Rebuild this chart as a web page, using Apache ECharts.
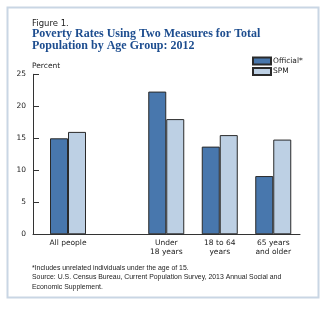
<!DOCTYPE html>
<html><head><meta charset="utf-8">
<script src="https://cdn.jsdelivr.net/npm/echarts@6/dist/echarts.min.js"></script>
<style>html,body{margin:0;padding:0;background:#fff}#c{width:330px;height:329px}</style>
</head><body><div id="c"></div>
<script>
var groupLeft = ["All people", ""];
var groupRight = ["Under\n18 years", "18 to 64\nyears", "65 years\nand older"];
var officialLeft = [15.0, null];
var spmLeft = [16.0, null];
var officialRight = [22.3, 13.7, 9.1];
var spmRight = [18.0, 15.5, 14.8];
var yTicks = [0, 5, 10, 15, 20, 25];
var seriesNames = ["Official*", "SPM"];

var cOff = "#4877ad", cSpm = "#bdd0e4", edge = "#2a2a2a";
var chart = echarts.init(document.getElementById('c'));
var labelFont = {fontFamily: "DejaVu Sans", fontSize: 7.5, color: "#222"};
function xa(grid, data){
  return {type:'category', gridIndex:grid, data:data,
    axisLine:{show:true, lineStyle:{color:'#333', width:1}},
    axisTick:{show:false},
    axisLabel:Object.assign({margin:4, lineHeight:9, interval:0}, labelFont)};
}
function ya(grid, show){
  return {type:'value', gridIndex:grid, min:yTicks[0], max:yTicks[yTicks.length-1], interval:5,
    splitLine:{show:false},
    axisLine:{show:show, lineStyle:{color:'#333'}},
    axisTick:{show:show, inside:true, length:6, lineStyle:{color:'#333'}},
    axisLabel:Object.assign({show:show, margin:7}, labelFont)};
}
function bar(name, xi, data, color){
  return {type:'bar', name:name, xAxisIndex:xi, yAxisIndex:xi, data:data,
    barWidth:18, barGap:'0%',
    itemStyle:{color:color, borderColor:edge, borderWidth:1}};
}
chart.setOption({
  animation:false,
  grid:[
    {left:33, top:74.3, width:140, height:160},
    {left:139.5, top:74.3, width:160.5, height:160}
  ],
  xAxis:[xa(0, groupLeft), xa(1, groupRight)],
  yAxis:[ya(0, true), ya(1, false)],
  legend:{orient:'vertical', left:252, top:56.5, padding:0, itemWidth:18, itemHeight:7, itemGap:1.5,
    icon:'rect', textStyle:Object.assign({padding:[0,0,0,-3]}, labelFont),
    data:seriesNames},
  series:[
    bar(seriesNames[0], 0, officialLeft, cOff),
    bar(seriesNames[1], 0, spmLeft, cSpm),
    bar(seriesNames[0], 1, officialRight, cOff),
    bar(seriesNames[1], 1, spmRight, cSpm)
  ],
  graphic:[
    {type:'rect', shape:{x:7.5, y:7.5, width:311, height:290}, style:{fill:'none', stroke:'#c9d6e4', lineWidth:2}, silent:true},
    {type:'text', left:32, top:19.5, style:{text:'Figure 1.', font:'8.5px "DejaVu Sans"', fill:'#222'}},
    {type:'text', left:32, top:28, style:{text:'Poverty Rates Using Two Measures for Total\nPopulation by Age Group: 2012', font:'bold 12px "Liberation Serif"', fill:'#1d4d8f', lineHeight:11.5}},
    {type:'text', left:32, top:62, style:{text:'Percent', font:'7.5px "DejaVu Sans"', fill:'#222'}},
    {type:'text', left:32, top:263, style:{text:'*Includes unrelated individuals under the age of 15.\nSource: U.S. Census Bureau, Current Population Survey, 2013 Annual Social and\nEconomic Supplement.', font:'6.9px "Liberation Sans"', fill:'#222', lineHeight:9.5}}
  ]
});
</script></body></html>
